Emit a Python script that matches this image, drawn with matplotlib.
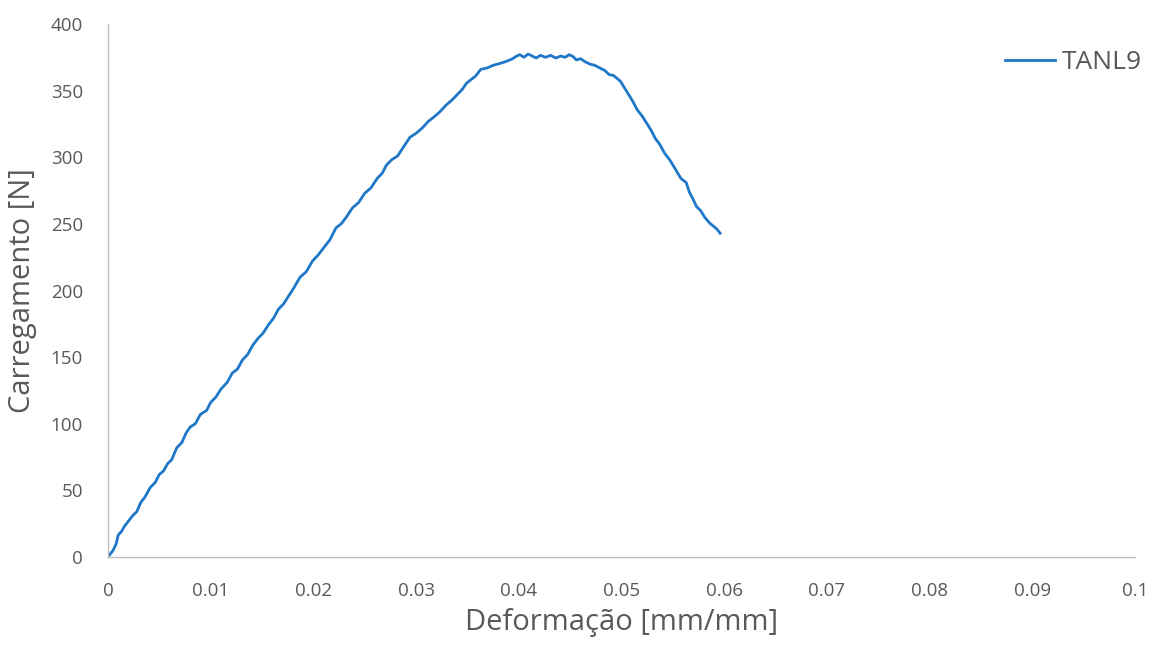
import matplotlib.pyplot as plt

# values (strain, load)
deformacao = [
    0.0, 0.0002, 0.0005, 0.0008, 0.0010, 0.0013, 0.0016, 0.0020, 0.0024,
    0.0028, 0.0032, 0.0036, 0.0041, 0.0046, 0.0050, 0.0054, 0.0058, 0.0062,
    0.0067, 0.0072, 0.0076, 0.0080, 0.0085, 0.0090, 0.0096, 0.0100, 0.0105,
    0.0110, 0.0116, 0.0121, 0.0126, 0.0131, 0.0136, 0.0141, 0.0146, 0.0151,
    0.0156, 0.0161, 0.0166, 0.0171, 0.0176, 0.0181, 0.0187, 0.0193, 0.0199,
    0.0205, 0.0211, 0.0216, 0.0222, 0.0227, 0.0232, 0.0238, 0.0244, 0.0250,
    0.0256, 0.0262, 0.0267, 0.0271, 0.0276, 0.0282, 0.0288, 0.0294, 0.0300,
    0.0306, 0.0312, 0.0317, 0.0323, 0.0329, 0.0335, 0.0340, 0.0345, 0.0349,
    0.0353, 0.0358, 0.0363, 0.0369, 0.0375, 0.0382, 0.0388, 0.0394, 0.0398,
    0.0401, 0.0405, 0.0409, 0.0413, 0.0417, 0.0421, 0.0426, 0.0431, 0.0436,
    0.0441, 0.0445, 0.0449, 0.0453, 0.0456, 0.0460, 0.0465, 0.0469, 0.0474,
    0.0479, 0.0484, 0.0488, 0.0492, 0.0496, 0.0499, 0.0503, 0.0507, 0.0511,
    0.0515, 0.0520, 0.0525, 0.0529, 0.0533, 0.0537, 0.0542, 0.0547, 0.0551,
    0.0554, 0.0558, 0.0563, 0.0566, 0.0570, 0.0573, 0.0577, 0.0581, 0.0586,
    0.0590, 0.0593, 0.0596,
]
carregamento = [
    0.0, 2.0, 5.0, 10.0, 16.5, 19.0, 23.0, 27.0, 31.0,
    34.0, 41.0, 45.0, 52.0, 56.0, 62.0, 64.5, 70.0, 73.0,
    82.0, 86.0, 93.0, 97.5, 100.0, 107.0, 110.0, 116.0, 120.0,
    126.0, 131.0, 138.0, 141.0, 148.0, 152.0, 159.0, 164.0, 168.0,
    174.0, 179.0, 186.0, 190.0, 196.0, 202.0, 210.0, 214.0, 222.0,
    227.0, 233.0, 238.0, 247.0, 250.0, 255.0, 262.0, 266.0, 273.0,
    277.0, 284.0, 288.0, 294.0, 298.0, 301.0, 308.0, 315.0, 318.0,
    322.0, 327.0, 330.0, 334.0, 339.0, 343.0, 347.0, 351.0, 355.5,
    358.0, 361.0, 366.0, 367.0, 369.0, 370.5, 372.0, 374.0, 376.0,
    377.0, 375.0, 377.5, 376.0, 374.5, 376.5, 375.0, 376.5, 374.5,
    376.0, 375.0, 377.0, 375.5, 373.0, 374.0, 371.5, 370.0, 369.0,
    367.0, 365.0, 362.0, 361.5, 359.0, 357.0, 352.0, 347.0, 342.0,
    336.0, 331.0, 325.0, 320.0, 314.0, 310.0, 303.0, 298.0, 293.0,
    289.0, 284.0, 281.0, 274.0, 268.0, 263.0, 260.0, 255.0, 250.5,
    248.0, 246.0, 243.0,
]
serie = 'TANL9'

x_ticks = [0, 0.01, 0.02, 0.03, 0.04, 0.05, 0.06, 0.07, 0.08, 0.09, 0.1]
x_labels = ['0', '0.01', '0.02', '0.03', '0.04', '0.05', '0.06', '0.07', '0.08', '0.09', '0.1']
y_ticks = [0, 50, 100, 150, 200, 250, 300, 350, 400]

plt.rcParams['font.family'] = ['Open Sans', 'DejaVu Sans']

fig = plt.figure(figsize=(11.55, 6.46), dpi=100)
ax = fig.add_axes([0.0935, 0.1378, 0.8892, 0.825])

ax.plot(deformacao, carregamento, color='#1f77c8', linewidth=2.0, label=serie)

ax.set_xlim(0, 0.1)
ax.set_ylim(0, 400)
ax.set_xticks(x_ticks)
ax.set_xticklabels(x_labels)
ax.set_yticks(y_ticks)

for s in ['top', 'right']:
    ax.spines[s].set_visible(False)
for s in ['left', 'bottom']:
    ax.spines[s].set_color('#bfbfbf')
    ax.spines[s].set_linewidth(1.0)

ax.tick_params(axis='both', length=0, labelsize=13.5, labelcolor='#595959')
ax.tick_params(axis='x', pad=18)
ax.tick_params(axis='y', pad=18)

ax.set_xlabel('Deformação [mm/mm]', fontsize=21, color='#595959', labelpad=6)
ax.set_ylabel('Carregamento [N]', fontsize=21, color='#595959', labelpad=10)

ax.legend(loc='upper right', bbox_to_anchor=(1.03, 0.995), frameon=False,
          fontsize=19, labelcolor='#595959', handlelength=1.9, handletextpad=0.25)

fig.savefig('out.png', dpi=100)
